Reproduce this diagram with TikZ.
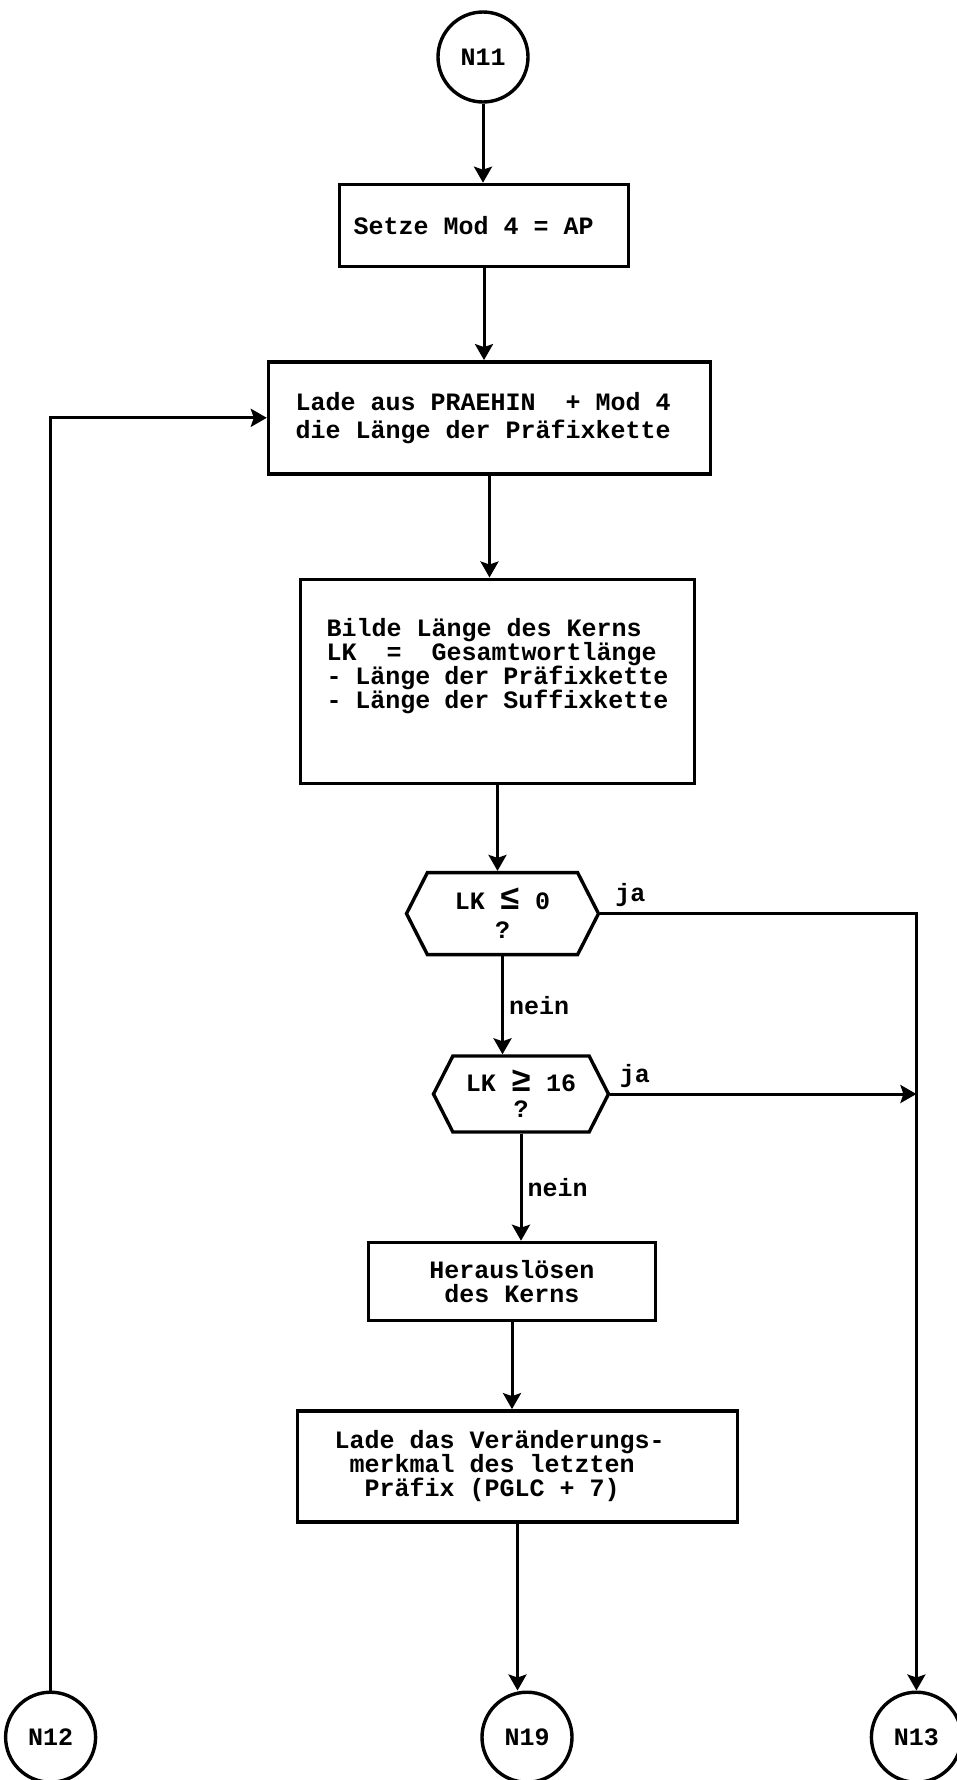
\documentclass[tikz,border=0pt]{standalone}
\usepackage{fontspec}
\newfontfamily\typewfont{Liberation Mono}
\usepackage{tikz}
\usetikzlibrary{arrows.meta,positioning,shapes.symbols}
\newcommand{\flowfont}{\typewfont\bfseries\fontsize{25pt}{24pt}\selectfont}
\newcommand{\bigrel}[1]{{\fontsize{34pt}{24pt}\selectfont #1}}

\begin{document}
\begin{tikzpicture}[
  x=1pt, y=-1pt,
  font=\flowfont,
  conn/.style={circle, draw, line width=3.4pt, minimum size=90pt, inner sep=0pt},
  procbox/.style={rectangle, draw, line width=3.4pt, inner sep=0pt, align=flush left},
  decide/.style={signal, signal to=west and east, signal pointer angle=126,
                 draw, line width=3.4pt, align=center, inner sep=0pt},
  arr/.style={-{Stealth[length=16pt, width=18pt, inset=3pt]}, line width=3pt},
  lbl/.style={inner sep=5pt},
]
\useasboundingbox (0,0) rectangle (956,1780);

% Main column
\node[conn] (n11) at (483,57) {N11};
\node[procbox, minimum width=289pt, minimum height=82pt, text width=261pt,
      below=79pt of n11, xshift=1pt] (setze) {Setze Mod 4 = AP};
\node[procbox, minimum width=442pt, minimum height=112pt, text width=388pt,
      below=92pt of setze, xshift=5.5pt] (lade)
  {Lade aus PRAEHIN~~+ Mod 4\\[4pt]die Länge der Präfixkette};
\node[procbox, minimum width=394pt, minimum height=204pt, text width=342pt,
      below=102pt of lade, xshift=8pt] (bilde)
  {Bilde Länge des Kerns\\LK~~=~~Gesamtwortlänge\\- Länge der Präfixkette\\- Länge der Suffixkette\\[12pt]\mbox{}};

% Decisions
\node[decide, minimum width=192pt, minimum height=82pt,
      below=86pt of bilde, xshift=5pt] (hex1) {LK \bigrel{≤} 0\\[5pt]?};
\node[decide, minimum width=175pt, minimum height=76pt,
      below=98pt of hex1, xshift=18.5pt] (hex2) {LK \bigrel{≥} 16\\[2pt]?};

\node[procbox, minimum width=287pt, minimum height=78pt, align=center,
      below=107pt of hex2, xshift=-9pt] (heraus) {Herauslösen\\des Kerns};
\node[procbox, minimum width=440pt, minimum height=111pt, text width=366pt,
      below=87pt of heraus, xshift=5.5pt] (ladedas)
  {Lade das Veränderungs-\\~merkmal des letzten\\~~Präfix (PGLC + 7)};

% Connectors at the bottom
\node[conn, below=167pt of ladedas, xshift=9.5pt] (n19) {N19};
\node[conn, left=383pt of n19] (n12) {N12};
\node[conn, right=296pt of n19] (n13) {N13};

% Arrows
\draw[arr] (n11) -- (n11 |- setze.north);
\draw[arr] (setze.south) -- (setze.south |- lade.north);
\draw[arr] (lade.south) -- (lade.south |- bilde.north);
\draw[arr] (bilde.south) -- (bilde.south |- hex1.north);
\draw[arr] (hex1.south) -- node[lbl, right, midway] {nein} (hex1.south |- hex2.north);
\draw[arr] (hex2.south) -- node[lbl, right, midway] {nein} (hex2.south |- heraus.north);
\draw[arr] (heraus.south) -- (heraus.south |- ladedas.north);
\draw[arr] (ladedas.south) -- (ladedas.south |- n19.north);
\draw[arr] (hex1.east) -- node[lbl, above, pos=0.095] {ja} (hex1.east -| n13) -- (n13);
\draw[arr] (hex2.east) -- node[lbl, above, pos=0.08] {ja} (hex2.east -| n13);
\draw[arr] (n12) |- (lade.west);

\end{tikzpicture}
\end{document}
